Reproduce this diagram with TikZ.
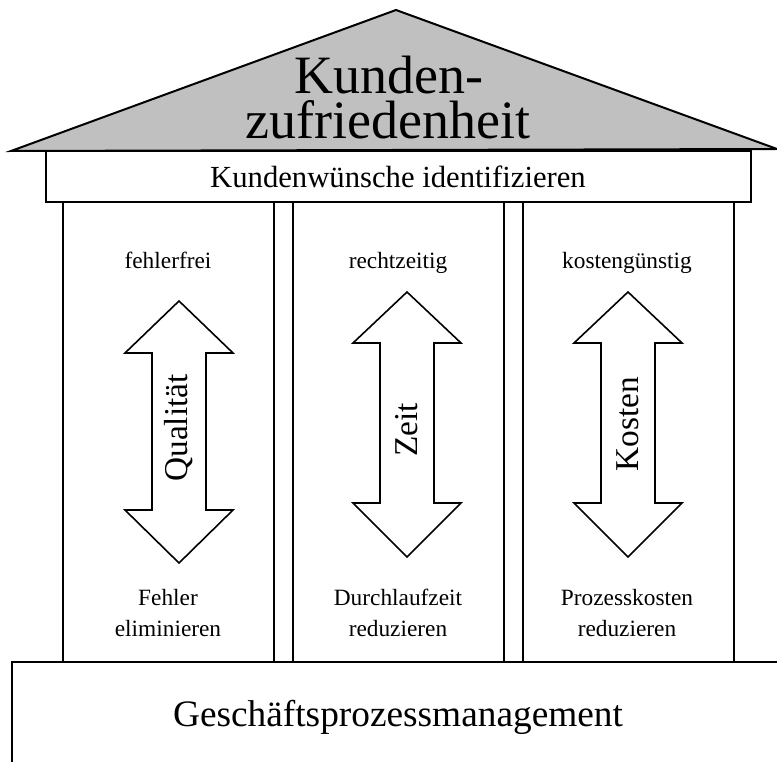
\documentclass[tikz,border=0pt]{standalone}
\usepackage{fontspec}
\setmainfont{Liberation Serif}
\begin{document}
\begin{tikzpicture}[x=0.75pt,y=-0.75pt,
  wall/.style={draw=black,line width=1.5pt,line join=miter},
  roof/.style={wall,fill=roofgray},
  pfeil/.style={draw=black,fill=white,line width=1.2pt,line join=miter},
  dach/.style={font=\fontsize{40.5}{40.5}\selectfont,inner sep=0pt,anchor=base},
  band/.style={font=\fontsize{23}{23}\selectfont,inner sep=0pt,anchor=base},
  sockel/.style={font=\fontsize{28}{28}\selectfont,inner sep=0pt,anchor=base},
  klein/.style={font=\fontsize{17.5}{23}\selectfont,align=center,inner sep=0pt,anchor=base},
  achse/.style={font=\fontsize{25}{25}\selectfont,rotate=90,inner sep=0pt}]
\definecolor{roofgray}{RGB}{192,192,192}
\useasboundingbox (0,0) rectangle (777,762);
\begin{scope}
\clip (0,0) rectangle (777,762);

% foundation
\draw[wall] (790,662) -- (12,662) -- (12,780);

% pillars
\draw[wall] (63,202) rectangle (274,662);
\draw[wall] (293,202) rectangle (504,662);
\draw[wall] (523,202) rectangle (734,662);

% architrave
\draw[wall,fill=white] (46,151) rectangle (751,202);

% roof
\draw[roof] (11,151) -- (396,10) -- (777,149) -- cycle;
\end{scope}

% double arrows (centre x, top tip, upper head base, lower head base, bottom tip)
\newcommand\doppelpfeil[5]{%
  \draw[pfeil] (#1,#2) -- (#1+54,#3) -- (#1+27,#3) -- (#1+27,#4) -- (#1+54,#4)
    -- (#1,#5) -- (#1-54,#4) -- (#1-27,#4) -- (#1-27,#3) -- (#1-54,#3) -- cycle;}
\doppelpfeil{179}{301}{353}{510}{563}
\doppelpfeil{407}{292}{343}{503}{557}
\doppelpfeil{628}{292}{343}{503}{557}

% texts (base anchor: multi-line nodes sit on their last line)
\node[dach] (kunden) at (389,94) {Kunden-};
\node[dach] (zufrieden) at (388,139) {zufriedenheit};
\node[band] (wuensche) at (398,188) {Kundenwünsche identifizieren};
\node[sockel] (gpm) at (398,726) {Geschäftsprozessmanagement};

\node[klein] (q1) at (168,269) {fehlerfrei};
\node[klein] (z1) at (398,269) {rechtzeitig};
\node[klein] (k1) at (627,269) {kostengünstig};

\node[klein] (q2) at (168,636) {Fehler\\eliminieren};
\node[klein] (z2) at (398,636) {Durchlaufzeit\\reduzieren};
\node[klein] (k2) at (627,636) {Prozesskosten\\reduzieren};

\node[achse] (qa) at (179,428) {Qualität};
\node[achse] (za) at (407,430) {Zeit};
\node[achse] (ka) at (628,424) {Kosten};
\end{tikzpicture}
\end{document}
